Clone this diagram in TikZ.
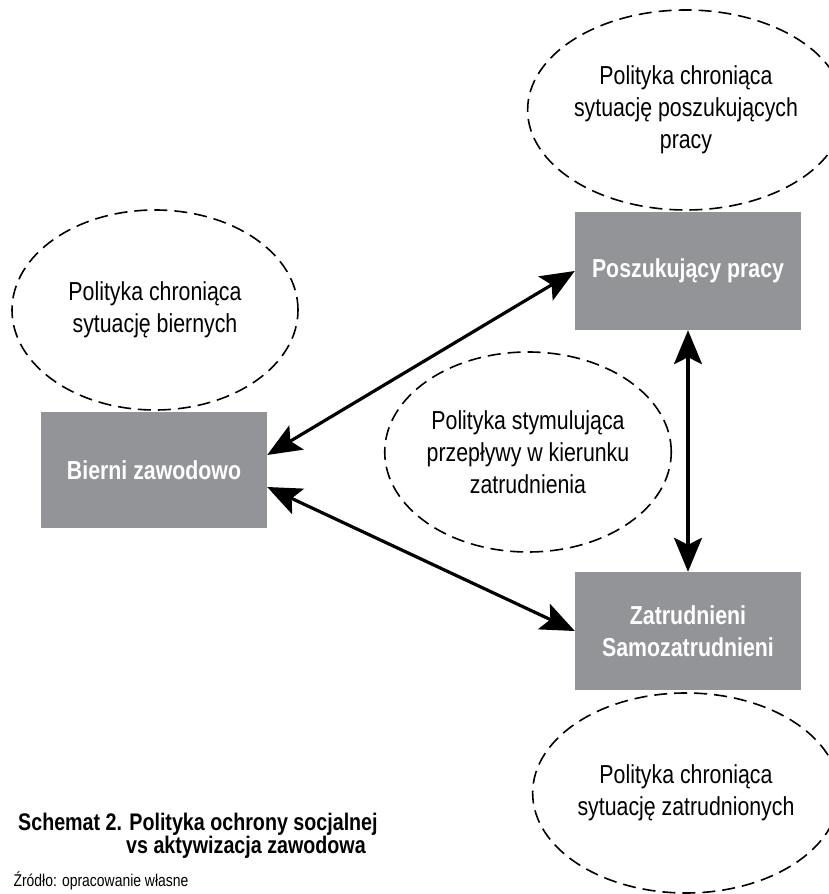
\documentclass[tikz,border=0pt]{standalone}
\usepackage{fontspec}
\setmainfont{Liberation Sans}[FakeStretch=0.82]
\usepackage{tikz}
\definecolor{white}{rgb}{1.0, 1.0, 1.0}
\definecolor{black}{rgb}{0.0, 0.0, 0.0}
\definecolor{boxgray}{RGB}{147,148,152}
\usetikzlibrary{shapes.geometric}
\usetikzlibrary{arrows.meta}
\pgfdeclarelayer{edgelayer}
\pgfdeclarelayer{nodelayer}
\pgfsetlayers{edgelayer,nodelayer,main}
\tikzstyle{policy}=[ellipse,draw=black,line width=1.6pt,dash pattern=on 13pt off 7pt,minimum width=286pt,minimum height=200pt,inner sep=0pt,align=center,font=\fontsize{26}{32}\selectfont]
\tikzstyle{group}=[rectangle,fill=boxgray,text=white,minimum width=226pt,minimum height=118pt,align=center,font=\bfseries\fontsize{26}{32}\selectfont]
\tikzstyle{flow}=[{Stealth[length=34pt,width=28pt,inset=7pt]}-{Stealth[length=34pt,width=28pt,inset=7pt]},line width=3.2pt]

\begin{document}
\begin{tikzpicture}[x=1pt,y=1pt]
        \useasboundingbox (0,0) rectangle (828,894);
        \begin{pgfonlayer}{nodelayer}
            \node [style = policy] (ejob) at (686, 784) {Polityka chroniąca\\sytuację poszukujących\\pracy};
            \node [style = policy] (epas) at (155, 584) {Polityka chroniąca\\sytuację biernych};
            \node [style = policy] (eact) at (528, 442) {Polityka stymulująca\\przepływy w kierunku\\zatrudnienia};
            \node [style = policy] (eemp) at (686, 101) {Polityka chroniąca\\sytuację zatrudnionych};
            \node [style = group] (job) at (688, 623) {Poszukujący pracy};
            \node [style = group, minimum height=116pt] (pas) at (154, 424) {Bierni zawodowo};
            \node [style = group] (emp) at (688, 263) {Zatrudnieni\\Samozatrudnieni};
            \node [anchor=base west, inner sep=0pt, align=left, font=\bfseries\fontsize{24}{21.5}\selectfont] (caption) at (18, 40) {Schemat 2. Polityka ochrony socjalnej\\\hspace*{108pt}vs aktywizacja zawodowa};
            \node [anchor=base west, font=\fontsize{17}{20}\selectfont] (src) at (10, 7) {Źródło: opracowanie własne};
        \end{pgfonlayer}

        \begin{pgfonlayer}{edgelayer}
            \draw [style = flow] ([yshift=15pt]pas.east) to (job.west);
            \draw [style = flow] ([yshift=-17pt]pas.east) to (emp.west);
            \draw [style = flow] (job.south) to (emp.north);
        \end{pgfonlayer}
\end{tikzpicture}
\end{document}
